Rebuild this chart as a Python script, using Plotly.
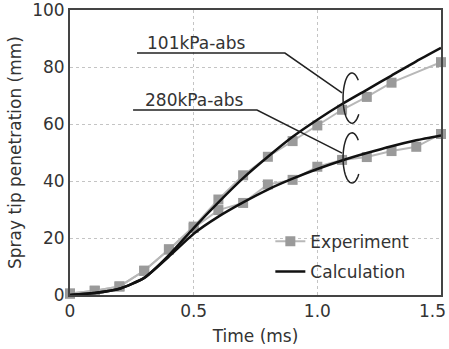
import numpy as np
import plotly.graph_objects as go

# ---- data ----
time_exp_101 = [0.0, 0.1, 0.2, 0.3, 0.4, 0.5, 0.6, 0.7, 0.8, 0.9, 1.0, 1.1, 1.2, 1.3, 1.5]
exp_101 = [0.5, 1.5, 3.0, 8.5, 16.0, 24.0, 33.5, 42.0, 48.5, 54.0, 59.5, 65.0, 69.5, 74.5, 81.7]

time_exp_280 = [0.0, 0.1, 0.2, 0.3, 0.4, 0.5, 0.6, 0.7, 0.8, 0.9, 1.0, 1.1, 1.2, 1.3, 1.4, 1.5]
exp_280 = [0.5, 1.5, 3.0, 8.5, 16.0, 23.5, 29.8, 32.3, 38.8, 40.4, 45.0, 47.4, 48.4, 50.5, 52.0, 56.5]

time_calc = [0.0, 0.1, 0.2, 0.3, 0.4, 0.5, 0.6, 0.7, 0.8, 0.9, 1.0, 1.1, 1.2, 1.3, 1.4, 1.5]
calc_101 = [0.0, 0.7, 2.2, 6.0, 14.0, 23.5, 32.5, 41.0, 48.5, 55.5, 61.5, 67.0, 72.0, 77.0, 82.0, 86.7]
calc_280 = [0.0, 0.7, 2.2, 6.0, 13.5, 21.5, 27.5, 32.5, 37.0, 40.8, 44.2, 47.2, 49.8, 52.2, 54.3, 56.0]

x_ticks = [0, 0.5, 1.0, 1.5]
x_tick_labels = ["0", "0.5", "1.0", "1.5"]
y_ticks = [0, 20, 40, 60, 80, 100]

label_101 = "101kPa-abs"
label_280 = "280kPa-abs"

FONT = "DejaVu Sans, sans-serif"
TXT = "#333333"
GRAY = "#9a9a9a"

fig = go.Figure()

for i, (tx, ty) in enumerate([(time_exp_101, exp_101), (time_exp_280, exp_280)]):
    fig.add_trace(go.Scatter(
        x=tx, y=ty, mode="lines+markers", name="Experiment",
        line=dict(color="#b8b8b8", width=2),
        marker=dict(symbol="square", size=10, color=GRAY),
        showlegend=(i == 0), legendgroup="exp", cliponaxis=False,
    ))
for i, cy in enumerate([calc_101, calc_280]):
    fig.add_trace(go.Scatter(
        x=time_calc, y=cy, mode="lines", name="Calculation",
        line=dict(color="#111111", width=2.5, shape="spline", smoothing=0.6),
        showlegend=(i == 0), legendgroup="calc",
    ))

# ---- annotation leaders, underlines and "C" brackets ----
def bracket(cx, cy, rx, ry):
    t = np.linspace(np.radians(45), np.radians(320), 40)
    xs = cx + rx * np.cos(t)
    ys = cy + ry * np.sin(t)
    return "M " + " L ".join(f"{a:.4f},{b:.3f}" for a, b in zip(xs, ys))

line_style = dict(color="#222222", width=1.5)
# 101 kPa
fig.add_shape(type="path", xref="x", yref="y",
              path="M 0.271,84.9 L 0.869,84.9 L 1.100,70.9", line=line_style)
fig.add_shape(type="path", xref="x", yref="y",
              path=bracket(1.140, 69.1, 0.036, 8.8), line=line_style)
# 280 kPa
fig.add_shape(type="path", xref="x", yref="y",
              path="M 0.255,64.9 L 0.756,64.9 L 1.100,49.8", line=line_style)
fig.add_shape(type="path", xref="x", yref="y",
              path=bracket(1.140, 48.1, 0.036, 8.8), line=line_style)

fig.add_annotation(x=0.51, y=88.3, xref="x", yref="y", text=label_101, showarrow=False,
                   font=dict(family=FONT, size=17, color=TXT))
fig.add_annotation(x=0.505, y=68.3, xref="x", yref="y", text=label_280, showarrow=False,
                   font=dict(family=FONT, size=17, color=TXT))

# last x tick label placed so it stays inside the picture (as in the reference)
fig.add_annotation(x=x_ticks[-1], y=0, xref="x", yref="paper", text=x_tick_labels[-1],
                   showarrow=False, xanchor="right", yanchor="top", xshift=7, yshift=-4,
                   font=dict(family=FONT, size=17, color=TXT))
axis_tick_text = x_tick_labels[:-1] + [""]

fig.update_layout(
    width=449, height=349,
    margin=dict(l=70, r=8, t=10, b=54),
    paper_bgcolor="white", plot_bgcolor="white",
    font=dict(family=FONT, size=17, color=TXT),
    legend=dict(x=0.54, y=0.25, xanchor="left", yanchor="top",
                bgcolor="rgba(0,0,0,0)", font=dict(size=17),
                traceorder="grouped", tracegroupgap=5),
)
fig.update_xaxes(
    range=[0, 1.5], tickvals=x_ticks, ticktext=axis_tick_text,
    title=dict(text="Time (ms)", font=dict(size=17), standoff=10),
    showgrid=True, gridcolor="#c4c4c4", griddash="3px,3px", gridwidth=1,
    showline=True, linecolor="#444444", linewidth=2, mirror=True,
    zeroline=False, ticks="", ticklen=0,
    automargin=False,
)
fig.update_yaxes(
    range=[0, 100], tickvals=y_ticks,
    title=dict(text="Spray tip penetration (mm)", font=dict(size=17), standoff=6),
    showgrid=True, gridcolor="#c4c4c4", griddash="3px,3px", gridwidth=1,
    showline=True, linecolor="#444444", linewidth=2, mirror=True,
    zeroline=False, ticks="", ticklen=0, ticklabeloverflow="allow",
    automargin=False,
)

fig.write_html("out.html", config={"displayModeBar": False},
               post_script="document.body.style.margin='0';document.body.style.padding='0';")
